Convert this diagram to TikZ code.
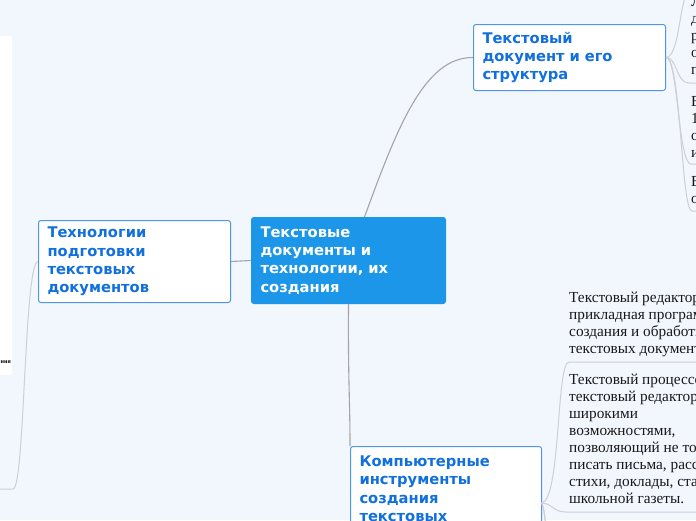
\documentclass[tikz,border=0pt]{standalone}
\usepackage{fontspec}
\setmainfont{Liberation Serif}
\newfontfamily\titlefont{DejaVu Sans}
\definecolor{bg}{RGB}{242,246,253}
\definecolor{rootblue}{RGB}{27,150,232}
\definecolor{topicborder}{RGB}{80,150,230}
\definecolor{topictext}{RGB}{17,112,222}
\definecolor{conngray}{RGB}{165,165,165}
\definecolor{sublight}{RGB}{205,207,212}
\definecolor{subtext}{RGB}{25,25,25}
\tikzset{
  topic/.style={draw=topicborder, line width=1pt, fill=white, rounded corners=2.5pt,
    anchor=north west, inner xsep=9pt, inner ysep=0pt, align=left, text=topictext,
    font=\titlefont\bfseries\fontsize{14.7}{18.3}\selectfont},
  rootbox/.style={topic, fill=rootblue, draw=rootblue, text=white},
  subtopic/.style={anchor=north west, inner sep=0pt, align=left, text=subtext,
    font=\fontsize{15.3}{17}\selectfont},
  conn/.style={draw=conngray, line width=1.1pt},
  subconn/.style={draw=sublight, line width=1pt}
}
\begin{document}
\begin{tikzpicture}[x=1pt,y=-1pt]
\fill[bg] (0,0) rectangle (696,520);
\useasboundingbox (0,0) rectangle (696,520);

% left white panel (clipped node)
\fill[white, rounded corners=2pt] (-10,36) rectangle (12,375);
\node[anchor=east, inner sep=0pt, font=\bfseries\fontsize{6}{7}\selectfont] (panel) at (11,362) {ния};

% main topics
\node[rootbox, minimum width=194pt, minimum height=86pt, text width=176pt] (root) at (251,217)
  {Текстовые\\документы и\\технологии, их\\создания};
\node[topic, minimum width=192pt, minimum height=82pt, text width=174pt] (left) at (38,220)
  {Технологии\\подготовки\\текстовых\\документов};
\node[topic, minimum width=192pt, minimum height=66pt, text width=174pt] (top) at (473,24)
  {Текстовый\\документ и его\\структура};
\node[topic, minimum width=191pt, minimum height=106pt, text width=173pt] (bot) at (350,446)
  {Компьютерные\\инструменты\\создания\\текстовых\\документов};

% connectors from root
\draw[conn] (root.west) -- (left.east);
\draw[conn] ([xshift=16pt]root.north) .. controls (398,125) and (425,57) .. (top.west);
\draw[conn] (root.south) .. controls (348,380) and (350,400) .. (bot.north west);

% children of the top topic
\node[subtopic] (tc1) at (691,-5.9) {\strut Л\\д\\р\\о\\п};
\node[subtopic] (tc2) at (691,94.1) {\strut В\\1\\о\\и};
\node[subtopic] (tc3) at (691,174.1) {\strut В\\о};
\coordinate (u0) at (692,-12);
\coordinate (u1) at (689,83);
\coordinate (u2) at (691,164);
\coordinate (u3) at (692,211);
\draw[subconn] (top.east) .. controls (681,57) and (679,-12) .. (u0) -- ++(40,0);
\draw[subconn] (top.east) .. controls (677,57) and (676,83) .. (u1) -- ++(40,0);
\draw[subconn] (top.east) .. controls (678,57) and (678,164) .. (u2) -- ++(40,0);
\draw[subconn] (top.east) .. controls (681,57) and (681,211) .. (u3) -- ++(40,0);

% children of the bottom topic
\node[subtopic] (bc1) at (569,290.1)
  {\strut Текстовый редактор —\\прикладная программа\\создания и обработки\\текстовых документов.};
\node[subtopic] (bc2) at (569,372.1)
  {\strut Текстовый процессор —\\текстовый редактор с\\широкими\\возможностями,\\позволяющий не только\\писать письма, рассказы,\\стихи, доклады, статьи\\школьной газеты.};
\coordinate (bp) at (541,503);
\coordinate (v1) at (569,362);
\coordinate (v2) at (566,512);
\coordinate (v3) at (570,600);
\coordinate (v4) at (570,700);
\draw[subconn] (bp) .. controls (561,503) and (556,362) .. (v1) -- ++(160,0);
\draw[subconn] (bp) .. controls (553,503) and (552,512) .. (v2) -- ++(160,0);
\draw[subconn] (bp) .. controls (547,503) and (547,600) .. (v3) -- ++(160,0);
\draw[subconn] (bp) .. controls (550,503) and (551,700) .. (v4) -- ++(160,0);

% child of the left topic
\coordinate (w1) at (13,489);
\draw[subconn] (left.west) .. controls (24,262) and (25,489) .. (w1) -- ++(-40,0);
\end{tikzpicture}
\end{document}
